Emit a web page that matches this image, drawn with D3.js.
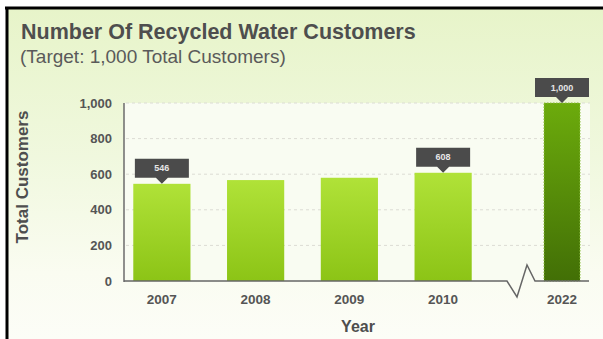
<!DOCTYPE html>
<html>
<head>
<meta charset="utf-8">
<script src="https://cdn.jsdelivr.net/npm/d3@7"></script>
<style>
  body { margin: 0; background: #fff; }
  text { font-family: "Liberation Sans", Arial, sans-serif; }
</style>
</head>
<body>
<div id="chart"></div>
<script>
// data
var years = ["2007", "2008", "2009", "2010"];
var customers = [546, 567, 580, 608];
var targetYear = ["2022"];
var targetCustomers = [1000];
var labelledYears = ["2007", "2010", "2022"];
var yTicks = [0, 200, 400, 600, 800, 1000];

var W = 603, H = 339;
var margin = {top: 103, left: 124, bottom: 58, right: 13};

var svg = d3.select("#chart").append("svg")
  .attr("width", W).attr("height", H);

var defs = svg.append("defs");
function vgrad(id, stops) {
  var g = defs.append("linearGradient").attr("id", id)
    .attr("x1", 0).attr("y1", 0).attr("x2", 0).attr("y2", 1);
  stops.forEach(function(s) {
    g.append("stop").attr("offset", s[0]).attr("stop-color", s[1]);
  });
}
vgrad("bg", [[0, "#e7f4c9"], [0.45, "#f0f8de"], [0.8, "#fafcf1"], [1, "#fcfdf7"]]);
vgrad("bar", [[0, "#b0e238"], [1, "#8cc416"]]);
vgrad("bar2", [[0, "#6cab0c"], [1, "#426f06"]]);

// frame
svg.append("rect").attr("x", 7).attr("y", 8).attr("width", W - 7).attr("height", H - 8)
  .attr("fill", "url(#bg)");
svg.append("line").attr("x1", 5).attr("x2", W).attr("y1", 8).attr("y2", 8)
  .attr("stroke", "#000").attr("stroke-width", 3);
svg.append("line").attr("x1", 7).attr("x2", 7).attr("y1", 7).attr("y2", H)
  .attr("stroke", "#000").attr("stroke-width", 3);

// titles
svg.append("text").attr("x", 21).attr("y", 39)
  .attr("font-size", 21.5).attr("font-weight", "bold").attr("fill", "#4e4e4e")
  .text("Number Of Recycled Water Customers");
svg.append("text").attr("x", 20).attr("y", 63)
  .attr("font-size", 19).attr("fill", "#5a5a5a")
  .text("(Target: 1,000 Total Customers)");

// scales
var y = d3.scaleLinear().domain([0, 1000]).range([281, margin.top]);
var x = d3.scaleBand().domain(years).range([115, 490])
  .paddingInner(0.39).paddingOuter(0.195);
var x2 = d3.scaleBand().domain(targetYear).range([535, 589]).padding(0.2);

// plot area + grid
svg.append("rect").attr("x", margin.left).attr("y", y(1000))
  .attr("width", 590 - margin.left).attr("height", y(0) - y(1000))
  .attr("fill", "#f9fcf2");
svg.append("g").selectAll("line").data(yTicks.filter(function(d) { return d > 0; }))
  .enter().append("line")
  .attr("x1", margin.left + 2).attr("x2", 590)
  .attr("y1", function(d) { return y(d); }).attr("y2", function(d) { return y(d); })
  .attr("stroke", "#dcdcd4").attr("stroke-dasharray", "3,3");

// bars
var data = years.map(function(d, i) { return {year: d, value: customers[i], x: x(d), w: x.bandwidth(), fill: "url(#bar)"}; });
targetYear.forEach(function(d, i) {
  data.push({year: d, value: targetCustomers[i], x: x2(d), w: x2.bandwidth(), fill: "url(#bar2)", target: true});
});

svg.append("g").selectAll("rect").data(data).enter().append("rect")
  .attr("x", function(d) { return d.x; })
  .attr("y", function(d) { return y(d.value); })
  .attr("width", function(d) { return d.w; })
  .attr("height", function(d) { return y(0) - y(d.value); })
  .attr("fill", function(d) { return d.fill; })
  .attr("stroke", function(d) { return d.target ? "#8cbf3c" : "none"; })
  .attr("stroke-width", 1)
  .attr("stroke-dasharray", "1.5,1.5");

// y axis
var yAxis = svg.append("g")
  .attr("transform", "translate(" + margin.left + ",0)")
  .call(d3.axisLeft(y).tickValues(yTicks).tickFormat(d3.format(",")).tickSize(0).tickPadding(12));
yAxis.select(".domain").remove();
yAxis.selectAll("text").attr("font-size", 13).attr("font-weight", "bold")
  .attr("fill", "#555").style("font-family", "'Liberation Sans', Arial, sans-serif");
svg.append("line").attr("x1", margin.left).attr("x2", margin.left)
  .attr("y1", y(1000)).attr("y2", y(0) + 1)
  .attr("stroke", "#6b6b6b").attr("stroke-width", 1.5);

// x baseline with break
var zig = [[margin.left, y(0)], [507, y(0)], [517, y(0) + 16], [527, y(0) - 16], [535, y(0)], [589, y(0)]];
svg.append("path").attr("d", d3.line()(zig))
  .attr("fill", "none").attr("stroke", "#666").attr("stroke-width", 1.5);

// x tick labels
svg.append("g").selectAll("text").data(data).enter().append("text")
  .attr("x", function(d) { return d.x + d.w / 2; })
  .attr("y", 304)
  .attr("text-anchor", "middle")
  .attr("font-size", 13.5).attr("font-weight", "bold").attr("fill", "#555")
  .text(function(d) { return d.year; });

// axis titles
svg.append("text").attr("x", 358).attr("y", 332).attr("text-anchor", "middle")
  .attr("font-size", 16).attr("font-weight", "bold").attr("fill", "#4e4e4e")
  .text("Year");
svg.append("text").attr("transform", "translate(28,177) rotate(-90)")
  .attr("text-anchor", "middle")
  .attr("font-size", 17).attr("font-weight", "bold").attr("fill", "#4e4e4e")
  .text("Total Customers");

// value callouts
var callouts = svg.append("g").selectAll("g")
  .data(data.filter(function(d) { return labelledYears.indexOf(d.year) >= 0; }))
  .enter().append("g")
  .attr("transform", function(d) { return "translate(" + (d.x + d.w / 2) + "," + y(d.value) + ")"; });
callouts.append("path")
  .attr("d", "M-27,-25H27V-6H6L0,0L-6,-6H-27Z")
  .attr("fill", "#4b4b4b");
callouts.append("text")
  .attr("y", -12.5).attr("text-anchor", "middle")
  .attr("font-size", 9).attr("font-weight", "bold").attr("fill", "#e6e6e6")
  .text(function(d) { return d3.format(",")(d.value); });
</script>
</body>
</html>
